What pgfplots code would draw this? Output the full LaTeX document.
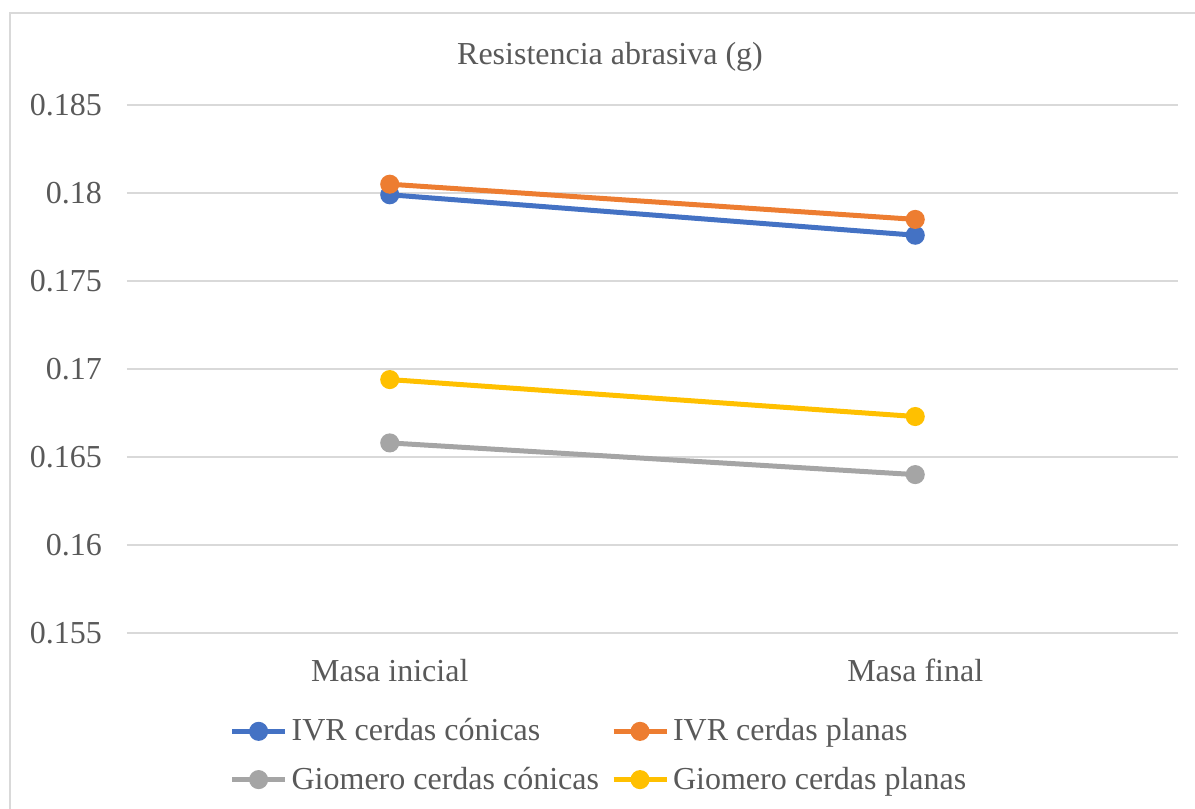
\documentclass[border=0pt]{standalone}
\usepackage{pgfplots}
\pgfplotsset{compat=1.18}
\usepackage{fontspec}
\setmainfont{Liberation Serif}

\definecolor{ivrcon}{HTML}{4472C4}
\definecolor{ivrpla}{HTML}{ED7D31}
\definecolor{giocon}{HTML}{A5A5A5}
\definecolor{giopla}{HTML}{FFC000}
\definecolor{txt}{HTML}{595959}
\definecolor{grd}{HTML}{D9D9D9}

\begin{document}
\begin{tikzpicture}
    % 1 px of the reference = 0.5pt
    \useasboundingbox (0,0) rectangle (597.5pt,404.5pt);
    \draw[grd, line width=1pt] (5pt,0) -- (5pt,398pt) -- (597.5pt,398pt);
    \node[txt, font=\fontsize{16}{19}\selectfont] at (305pt,376pt) {Resistencia abrasiva (g)};
    \begin{axis}[
        at={(63.5pt,88pt)}, anchor=south west,
        scale only axis,
        width=525.5pt, height=264pt,
        xmin=-0.5, xmax=1.5,
        ymin=0.155, ymax=0.185,
        xtick={0,1},
        xticklabels={Masa inicial, Masa final},
        ytick={0.155,0.16,0.165,0.17,0.175,0.18,0.185},
        yticklabel style={/pgf/number format/fixed, /pgf/number format/precision=3},
        /pgf/number format/assume math mode=true,
        ymajorgrids,
        grid style={grd, line width=0.75pt},
        axis line style={draw=none},
        major tick length=0pt,
        tick label style={txt, font=\fontsize{16}{19}\selectfont},
        yticklabel style={xshift=-9pt},
        xticklabel style={yshift=-9.5pt},
        legend columns=2,
        legend cell align=left,
        legend style={at={(0.45,-0.232)}, anchor=center, draw=none, fill=none,
            font=\fontsize{16}{19}\selectfont, text=txt,
            /tikz/every even column/.append style={column sep=4pt},
            row sep=7.5pt},
        legend image code/.code={
            \draw[#1, line width=2.5pt] (0pt,0pt) -- (26.5pt,0pt);
            \fill[#1] (13.25pt,0pt) circle (3.5pt);
        },
        every axis plot/.append style={line width=2.5pt, mark=*, mark size=3.5pt},
    ]
    \addplot[ivrcon, mark options={fill=ivrcon}] coordinates {(0,0.1799) (1,0.1776)};
    \addlegendentry{IVR cerdas cónicas}
    \addplot[ivrpla, mark options={fill=ivrpla}] coordinates {(0,0.1805) (1,0.1785)};
    \addlegendentry{IVR cerdas planas}
    \addplot[giocon, mark options={fill=giocon}] coordinates {(0,0.1658) (1,0.1640)};
    \addlegendentry{Giomero cerdas cónicas}
    \addplot[giopla, mark options={fill=giopla}] coordinates {(0,0.1694) (1,0.1673)};
    \addlegendentry{Giomero cerdas planas}
    \end{axis}
\end{tikzpicture}
\end{document}
